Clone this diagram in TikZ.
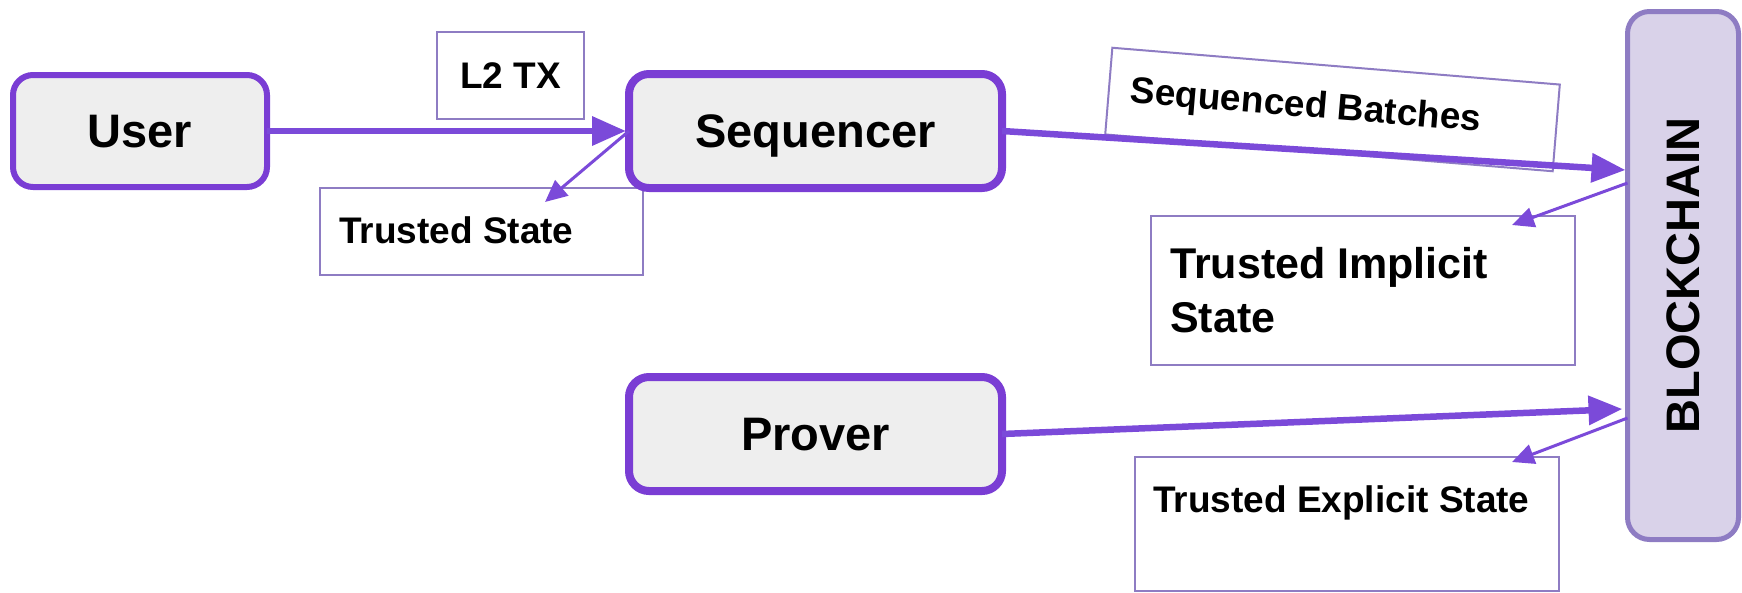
\documentclass[tikz,border=0pt]{standalone}
\usepackage{fontspec}
\setmainfont{Liberation Sans}
\usetikzlibrary{arrows.meta}

\definecolor{boxpurple}{HTML}{7A3DD4}
\definecolor{arrowpurple}{HTML}{7B4AD9}
\definecolor{softpurple}{HTML}{8E7CC3}
\definecolor{chainfill}{HTML}{D9D2E9}
\definecolor{actorfill}{HTML}{EEEEEE}

\tikzset{
  actor/.style={draw=boxpurple, fill=actorfill, rounded corners=20pt,
    inner sep=0pt, outer sep=0pt,
    font=\fontsize{47}{56}\selectfont\bfseries, text height=33.7pt, text depth=0pt},
  labelbox/.style={draw=softpurple, line width=2pt, fill=white,
    inner sep=0pt, outer sep=0pt},
  labeltext/.style={inner sep=0pt, font=\fontsize{37}{44}\selectfont\bfseries},
  capcentred/.style={text height=26.5pt, text depth=0pt},
  thickarrow/.style={draw=arrowpurple, line width=6.5pt,
    -{Triangle[length=34pt,width=28pt]}},
  thinarrow/.style={draw=arrowpurple, line width=3pt,
    -{Triangle[length=22pt,width=20pt]}},
}

\begin{document}
\begin{tikzpicture}[x=1pt, y=-1pt]
\useasboundingbox (0,0) rectangle (1742,592);

% label boxes (drawn first so the connectors run over them)
\node[labelbox, minimum width=147pt, minimum height=87pt] (l2box) at (510.5,75.5) {};
\node[labeltext, capcentred] (l2txt) at (l2box.center) {L2 TX};

\node[labelbox, minimum width=323pt, minimum height=87pt] (tsbox) at (481.5,231.5) {};
\node[labeltext, anchor=base west] (tstxt) at (339,243) {Trusted State};

\node[labelbox, rotate=-4.7, minimum width=449pt, minimum height=87pt] (batches) at (1332.5,109.5) {};
\node[labeltext, capcentred, rotate=-4.7, anchor=west]
  (batchtxt) at ([shift={(-4.7:22)}]batches.west) {Sequenced Batches};

\node[labelbox, minimum width=424pt, minimum height=149pt] (tisbox) at (1363,290.5) {};
\node[labeltext, anchor=base west, font=\fontsize{43}{54}\selectfont\bfseries] (tistxtA) at (1170,278) {Trusted Implicit};
\node[labeltext, anchor=base west, font=\fontsize{43}{54}\selectfont\bfseries] (tistxtB) at (1170,332) {State};

\node[labelbox, minimum width=424pt, minimum height=134pt] (tesbox) at (1347,523.5) {};
\node[labeltext, anchor=base west] (testxt) at (1153,512) {Trusted Explicit State};

% actors
\node[actor, line width=6pt, minimum width=254pt, minimum height=112pt] (user) at (140,131) {User};
\node[actor, line width=8pt, minimum width=373pt, minimum height=114pt] (seq) at (815.5,131) {Sequencer};
\node[actor, line width=8pt, minimum width=373pt, minimum height=114pt] (prover) at (815.5,434) {Prover};

% chain
\node[draw=softpurple, fill=chainfill, line width=5pt, rounded corners=22pt,
  minimum width=111pt, minimum height=528pt, inner sep=0pt, outer sep=0pt] (chain) at (1683,275.5) {};
\node[rotate=90, inner sep=0pt, font=\fontsize{47}{56}\selectfont\bfseries,
  text height=33.7pt, text depth=0pt] (chaintxt) at (chain.center) {BLOCKCHAIN};

% arrow tips inside the state boxes
\coordinate (tsTip) at (545,202);
\coordinate (tisTip) at (1512,225);
\coordinate (tesTip) at (1512,462);

% connectors
\draw[thickarrow, shorten >=3pt] (user.east) -- (seq.west);
\draw[thinarrow] (seq.west) -- (tsTip);
\draw[thickarrow] (seq.east) -- ([yshift=105.5pt, xshift=-2pt]chain.west);
\draw[thickarrow] (prover.east) -- ([yshift=-133.5pt, xshift=-5pt]chain.west);
\draw[thinarrow] ([yshift=92.5pt]chain.west) -- (tisTip);
\draw[thinarrow] ([yshift=-142.5pt]chain.west) -- (tesTip);
\end{tikzpicture}
\end{document}
